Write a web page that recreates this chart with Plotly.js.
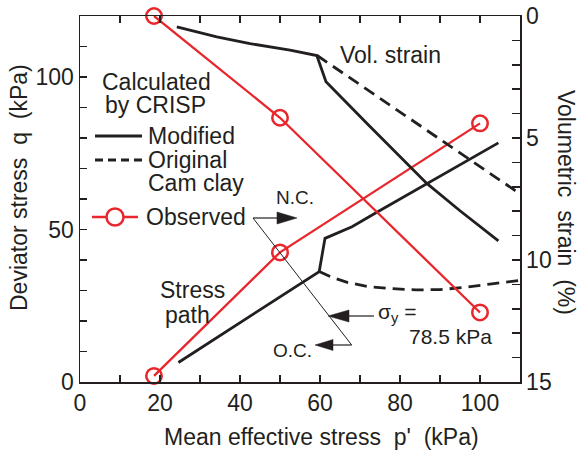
<!DOCTYPE html>
<html><head><meta charset="utf-8">
<script src="https://cdn.plot.ly/plotly-3.0.1.min.js"></script>
<style>html,body{margin:0;padding:0;background:#fff}</style>
</head><body><div id="chart" style="width:578px;height:452px"></div>
<script>
// ---- data ----
const obsP = [18.5, 50, 100];
const obsQ = [2, 42.5, 84.8];
const obsStrain = [0, 4.17, 12.15];

const modPathP = [24.6, 59.8, 61.25, 68, 74, 104.6];
const modPathQ = [6.4, 36.2, 47.1, 50.9, 55.5, 78.4];

const camPathP = [59.8, 63, 67, 72, 78, 84, 90, 96, 103, 110];
const camPathQ = [36.2, 34.3, 32.6, 31.3, 30.6, 30.2, 30.3, 31.0, 32.2, 33.3];

const modStrainP = [24.2, 34.2, 42.5, 52.5, 59.2, 61.5, 72, 82.9, 86.7, 95, 104.6];
const modStrain  = [0.45, 0.86, 1.13, 1.40, 1.62, 2.69, 4.45, 6.24, 6.86, 7.98, 9.22];

const camStrainP = [59.3, 84, 109.2];
const camStrain  = [1.62, 4.4, 7.2];

// tick spacing: labelled (major) and unlabelled (minor)
const xMajor = 20, xMinor = 10;
const yMajor = 50, yMinor = 10;
const y2Major = 5, y2Minor = 1;

// ---- styling ----
const INK = '#231f20';
const RED = 'rgb(232,38,44)';
const FONT = 'Liberation Sans, Arial, sans-serif';
const FS = 23;

// pixel -> data helpers for decorations (plot area: x 80..520, y 16..382)
const X = px => (px - 80) / 4;
const Q = py => (382 - py) * 120 / 366;

const traces = [
  {x: modStrainP, y: modStrain, yaxis: 'y2', mode: 'lines', line: {color: INK, width: 2.8}, name: 'Modified (vol. strain)', showlegend: false},
  {x: camStrainP, y: camStrain, yaxis: 'y2', mode: 'lines', line: {color: INK, width: 2.8, dash: '12px,7px'}, name: 'Original Cam clay (vol. strain)', showlegend: false},
  {x: modPathP, y: modPathQ, mode: 'lines', line: {color: INK, width: 2.8}, name: 'Modified (stress path)', showlegend: false},
  {x: camPathP, y: camPathQ, mode: 'lines', line: {color: INK, width: 2.8, dash: '12px,7px'}, name: 'Original Cam clay (stress path)', showlegend: false},
  {x: obsP, y: obsQ, mode: 'lines+markers', cliponaxis: false, line: {color: RED, width: 2.3},
   marker: {symbol: 'circle-open', size: 15.5, color: RED, line: {width: 2.5, color: RED}}, name: 'Observed (stress path)', showlegend: false},
  {x: obsP, y: obsStrain, yaxis: 'y2', mode: 'lines+markers', cliponaxis: false, line: {color: RED, width: 2.3},
   marker: {symbol: 'circle-open', size: 15.5, color: RED, line: {width: 2.5, color: RED}}, name: 'Observed (vol. strain)', showlegend: false}
];

function txt(text, px, py, opts) {
  return Object.assign({text: text, x: X(px), y: Q(py), xref: 'x', yref: 'y', showarrow: false,
    xanchor: 'center', yanchor: 'middle', font: {family: FONT, size: FS, color: INK}}, opts || {});
}
function seg(x0, y0, x1, y1, w, dash, color) {
  return {type: 'line', xref: 'x', yref: 'y', x0: X(x0), y0: Q(y0), x1: X(x1), y1: Q(y1),
    line: {color: color || INK, width: w, dash: dash || 'solid'}};
}
function head(tipx, tipy, basex, half) {
  return {type: 'path', xref: 'x', yref: 'y',
    path: 'M' + X(tipx) + ',' + Q(tipy) + ' L' + X(basex) + ',' + Q(tipy - half) + ' L' + X(basex) + ',' + Q(tipy + half) + ' Z',
    fillcolor: INK, line: {color: INK, width: 0.5}};
}

const annotations = [
  txt('Calculated', 156.7, 82),
  txt('by CRISP', 155, 105),
  txt('Modified', 146, 136, {xanchor: 'left'}),
  txt('Original', 146, 160, {xanchor: 'left'}),
  txt('Cam clay', 146, 183, {xanchor: 'left'}),
  txt('Observed', 144, 217, {xanchor: 'left'}),
  txt('Vol. strain', 338, 55, {xanchor: 'left'}),
  txt('Stress', 192.5, 290),
  txt('path', 187.5, 315),
  txt('N.C.', 295, 197, {font: {family: FONT, size: 19, color: INK}}),
  txt('O.C.', 292, 350, {font: {family: FONT, size: 19, color: INK}}),
  txt('σ<sub>y</sub> =', 376, 313, {xanchor: 'left', font: {family: FONT, size: 21, color: INK}}),
  txt('78.5 kPa', 450, 336, {font: {family: FONT, size: 21, color: INK}}),
  {text: "Mean effective stress  p'  (kPa)", xref: 'paper', yref: 'paper', x: (321.5 - 80) / 440, y: (452 - 70 - 437) / 366,
   showarrow: false, xanchor: 'center', yanchor: 'middle', font: {family: FONT, size: FS, color: INK}},
  {text: 'Deviator stress  q  (kPa)', xref: 'paper', yref: 'paper', x: (19 - 80) / 440, y: (382 - 188) / 366,
   textangle: -90, showarrow: false, xanchor: 'center', yanchor: 'middle', font: {family: FONT, size: FS, color: INK}},
  {text: 'Volumetric  strain  (%)', xref: 'paper', yref: 'paper', x: (566 - 80) / 440, y: (382 - 202) / 366,
   textangle: 90, showarrow: false, xanchor: 'center', yanchor: 'middle', font: {family: FONT, size: FS, color: INK}}
];

const shapes = [
  // legend samples
  seg(95, 136, 142, 136, 2.8),
  seg(95, 160, 142, 160, 2.8, '8px,5px'),
  seg(92, 217, 138, 217, 2.3, 'solid', RED),
  {type: 'circle', xref: 'x', yref: 'y', xsizemode: 'pixel', ysizemode: 'pixel', xanchor: X(115), yanchor: Q(217),
   x0: -8.5, x1: 8.5, y0: -8.5, y1: 8.5, fillcolor: 'white', line: {color: RED, width: 2.5}},
  // N.C. / O.C. leader and arrows
  seg(253, 218, 280, 218, 1.2),
  head(297, 218, 277, 6),
  seg(253, 218, 351.7, 345, 1),
  seg(351.7, 345, 330, 345, 1.2),
  head(315, 345, 333, 5.5),
  // sigma_y arrow
  seg(374, 316, 346, 316, 1.2),
  head(328, 316, 349, 6)
];

const axisCommon = {showgrid: false, zeroline: false, showline: true, linecolor: INK, linewidth: 1.5,
  ticks: 'inside', tickcolor: INK, tickwidth: 1.5, tickfont: {family: FONT, size: FS, color: INK}};

const layout = {
  width: 578, height: 452,
  margin: {l: 80, r: 58, t: 16, b: 70, pad: 0},
  paper_bgcolor: 'white', plot_bgcolor: 'white',
  showlegend: false,
  font: {family: FONT, color: INK},
  xaxis: Object.assign({}, axisCommon, {range: [0, 110], tick0: 0, dtick: xMajor, ticklen: 7, mirror: 'ticks',
    minor: {dtick: xMinor, ticks: 'inside', ticklen: 7, tickwidth: 1.5, tickcolor: INK, showgrid: false}}),
  yaxis: Object.assign({}, axisCommon, {range: [0, 120], tick0: 0, dtick: yMajor, ticklen: 7,
    minor: {dtick: yMinor, ticks: 'inside', ticklen: 7, tickwidth: 1.5, tickcolor: INK, showgrid: false}}),
  yaxis2: Object.assign({}, axisCommon, {range: [15, 0], overlaying: 'y', side: 'right', tick0: 0, dtick: y2Major, ticklen: 8,
    minor: {dtick: y2Minor, ticks: 'inside', ticklen: 8, tickwidth: 1.5, tickcolor: INK, showgrid: false}}),
  annotations: annotations,
  shapes: shapes
};

Plotly.newPlot('chart', traces, layout, {displayModeBar: false, staticPlot: true});
</script>
</body></html>
